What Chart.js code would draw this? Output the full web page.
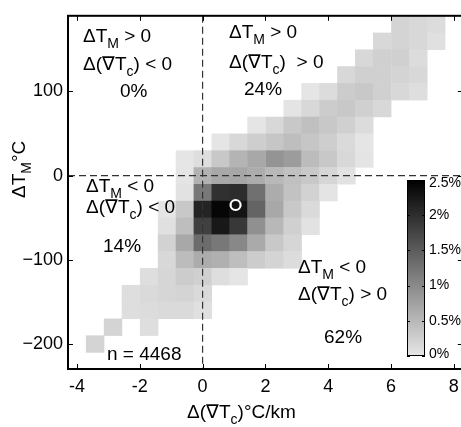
<!DOCTYPE html>
<html>
<head>
<meta charset="utf-8">
<script src="https://cdn.jsdelivr.net/npm/chart.js@4.4.1/dist/chart.umd.min.js"></script>
<style>
  html, body { margin: 0; padding: 0; background: #fff; overflow: hidden; }
  #wrap { width: 470px; height: 427px; }
</style>
</head>
<body>
<div id="wrap"><canvas id="histChart" width="470" height="427"></canvas></div>
<script>
// bin centres (x: 4/7 °C/km steps, y: 20 °C steps)
const binX = [-4.00, -3.43, -2.86, -2.29, -1.71, -1.14, -0.57, 0.00, 0.57, 1.14, 1.71,
              2.29, 2.86, 3.43, 4.00, 4.57, 5.14, 5.71, 6.29, 6.86, 7.43, 8.00];
const binY = [180, 160, 140, 120, 100, 80, 60, 40, 20, 0, -20, -40, -60, -80,
              -100, -120, -140, -160, -180, -200, -220];
const binW = 4 / 7;
const binH = 20;

// share of profiles per bin (%), one row per binY value, columns follow binX
const density = [
  [0,0,0,0,0,0,0,0,0,0,0,0,0,0,0,0,0,0,0.20,0.15,0.11,0],
  [0,0,0,0,0,0,0,0,0,0,0,0,0,0,0,0,0,0.15,0.20,0.15,0.07,0],
  [0,0,0,0,0,0,0,0,0,0,0,0,0,0,0,0,0.15,0.24,0.24,0.11,0,0],
  [0,0,0,0,0,0,0,0,0,0,0,0,0,0,0,0.15,0.24,0.24,0.20,0.15,0,0],
  [0,0,0,0,0,0,0,0,0,0,0,0,0,0.01,0.11,0.28,0.33,0.24,0.15,0.09,0,0],
  [0,0,0,0,0,0,0,0,0,0,0,0,0.02,0.15,0.28,0.33,0.24,0.15,0,0,0,0],
  [0,0,0,0,0,0,0,0,0,0,0.01,0.15,0.33,0.41,0.33,0.24,0.11,0,0,0,0,0],
  [0,0,0,0,0,0,0,0,0.01,0.15,0.26,0.35,0.43,0.35,0.26,0.13,0.01,0,0,0,0,0],
  [0,0,0,0,0,0,0.01,0.09,0.33,0.54,0.67,0.89,0.80,0.46,0.33,0.15,0.02,0,0,0,0,0],
  [0,0,0,0,0,0,0.01,0.57,0.67,0.70,0.63,0.50,0.41,0.33,0.17,0.04,0,0,0,0,0,0],
  [0,0,0,0,0,0,0.04,1.20,1.98,2.02,1.28,0.63,0.39,0.22,0.02,0,0,0,0,0,0,0],
  [0,0,0,0,0,0.01,0.33,2.11,2.43,2.28,1.41,0.67,0.33,0.13,0,0,0,0,0,0,0,0],
  [0,0,0,0,0,0.07,0.43,1.80,2.24,1.89,0.93,0.50,0.24,0.04,0,0,0,0,0,0,0,0],
  [0,0,0,0,0,0.22,0.67,1.33,1.20,1.02,0.65,0.33,0.17,0,0,0,0,0,0,0,0,0],
  [0,0,0,0,0,0.15,0.46,0.63,0.59,0.43,0.28,0.20,0.11,0,0,0,0,0,0,0,0,0],
  [0,0,0,0,0.09,0.17,0.28,0.24,0.09,0.01,0,0,0,0,0,0,0,0,0,0,0,0],
  [0,0,0,0.09,0.13,0.17,0.20,0.13,0,0,0,0,0,0,0,0,0,0,0,0,0,0],
  [0,0,0,0.09,0.11,0.13,0.13,0.07,0,0,0,0,0,0,0,0,0,0,0,0,0,0],
  [0,0,0.20,0,0.09,0,0,0,0,0,0,0,0,0,0,0,0,0,0,0,0,0],
  [0,0.20,0,0,0,0,0,0,0,0,0,0,0,0,0,0,0,0,0,0,0,0],
  [0,0,0,0,0,0,0,0,0,0,0,0,0,0,0,0,0,0,0,0,0,0]
];

const xTicks = [-4, -2, 0, 2, 4, 6, 8];
const yTicks = [-200, -100, 0, 100];
const cbTicks = [0, 0.5, 1, 1.5, 2, 2.5];
const cbMax = 2.5;
const meanPoint = [{ x: 1.05, y: -35 }];
const nProfiles = 4468;
const shares = ['0%', '24%', '14%', '62%'];  // TL, TR, BL, BR

const FONT = '"Liberation Sans", Arial, Helvetica, sans-serif';

// gray level: 0 % -> light gray, 2.5 % -> black
function grayFor(v) {
  const l = Math.round(230 * (1 - Math.min(v, cbMax) / cbMax));
  return 'rgb(' + l + ',' + l + ',' + l + ')';
}

// text with subscripts: parts starting with '_' are subscript
function drawRich(ctx, x, y, parts, size) {
  let cx = 0;
  parts.forEach(p => {
    const sub = p.charAt(0) === '_';
    const t = sub ? p.slice(1) : p;
    ctx.font = (sub ? Math.round(size * 0.72) : size) + 'px ' + FONT;
    ctx.fillText(t, x + cx, y + (sub ? size * 0.3 : 0));
    cx += ctx.measureText(t).width;
  });
}

const cells = [];
binY.forEach((y, r) => {
  binX.forEach((x, c) => {
    if (density[r][c] > 0) cells.push({ x: x, y: y, v: density[r][c] });
  });
});

const heatmapPlugin = {
  id: 'heatmap',
  beforeDatasetsDraw(chart) {
    const ctx = chart.ctx;
    const xs = chart.scales.x, ys = chart.scales.y;
    const area = chart.chartArea;

    ctx.save();
    ctx.beginPath();
    ctx.rect(area.left, area.top, area.right - area.left, area.bottom - area.top);
    ctx.clip();
    chart.data.datasets[0].data.forEach(c => {
      const x0 = xs.getPixelForValue(c.x - binW / 2);
      const x1 = xs.getPixelForValue(c.x + binW / 2);
      const y0 = ys.getPixelForValue(c.y + binH / 2);
      const y1 = ys.getPixelForValue(c.y - binH / 2);
      ctx.fillStyle = grayFor(c.v);
      ctx.fillRect(x0, y0, x1 - x0 + 0.5, y1 - y0 + 0.5);
    });

    // zero lines
    ctx.strokeStyle = '#333';
    ctx.lineWidth = 1.2;
    ctx.setLineDash([7, 4]);
    const zx = xs.getPixelForValue(0), zy = ys.getPixelForValue(0);
    ctx.beginPath();
    ctx.moveTo(zx, area.top); ctx.lineTo(zx, area.bottom);
    ctx.moveTo(area.left, zy); ctx.lineTo(area.right, zy);
    ctx.stroke();
    ctx.restore();
  },
  afterDraw(chart) {
    const ctx = chart.ctx;
    const xs = chart.scales.x, ys = chart.scales.y;
    const area = chart.chartArea;

    // box and inward ticks
    ctx.save();
    ctx.strokeStyle = '#000';
    ctx.lineWidth = 2;
    ctx.strokeRect(area.left, area.top, area.right - area.left, area.bottom - area.top);
    ctx.lineWidth = 1;
    ctx.beginPath();
    xTicks.forEach(v => {
      const px = Math.round(xs.getPixelForValue(v)) + 0.5;
      ctx.moveTo(px, area.bottom); ctx.lineTo(px, area.bottom - 5);
      ctx.moveTo(px, area.top); ctx.lineTo(px, area.top + 5);
    });
    yTicks.forEach(v => {
      const py = Math.round(ys.getPixelForValue(v)) + 0.5;
      ctx.moveTo(area.left, py); ctx.lineTo(area.left + 5, py);
      ctx.moveTo(area.right, py); ctx.lineTo(area.right - 5, py);
    });
    ctx.stroke();

    // axis titles
    ctx.fillStyle = '#000';
    ctx.textAlign = 'left';
    ctx.textBaseline = 'alphabetic';
    drawRich(ctx, 187, 418, ['\u0394(\u2207T', '_c', ')\u00b0C/km'], 19);
    ctx.save();
    ctx.translate(25, 198);
    ctx.rotate(-Math.PI / 2);
    drawRich(ctx, 0, 0, ['\u0394T', '_M', '\u00b0C'], 19);
    ctx.restore();

    // quadrant notes
    const fs = 19;
    drawRich(ctx, 83, 42, ['\u0394T', '_M', ' > 0'], fs);
    drawRich(ctx, 83, 70, ['\u0394(\u2207T', '_c', ') < 0'], fs);
    drawRich(ctx, 120, 97, [shares[0]], fs);

    drawRich(ctx, 229, 38, ['\u0394T', '_M', ' > 0'], fs);
    drawRich(ctx, 229, 68, ['\u0394(\u2207T', '_c', ')  > 0'], fs);
    drawRich(ctx, 244, 95, [shares[1]], fs);

    drawRich(ctx, 86, 192, ['\u0394T', '_M', ' < 0'], fs);
    drawRich(ctx, 86, 213, ['\u0394(\u2207T', '_c', ') < 0'], fs);
    drawRich(ctx, 103, 252, [shares[2]], fs);

    drawRich(ctx, 298, 273, ['\u0394T', '_M', ' < 0'], fs);
    drawRich(ctx, 298, 300, ['\u0394(\u2207T', '_c', ') > 0'], fs);
    drawRich(ctx, 324, 343, [shares[3]], fs);

    drawRich(ctx, 107, 360, ['n = ' + nProfiles], fs);

    // colour bar
    const cbL = 407, cbR = 425, cbT = 180, cbB = 356;
    const grad = ctx.createLinearGradient(0, cbB, 0, cbT);
    grad.addColorStop(0, grayFor(0));
    grad.addColorStop(1, grayFor(cbMax));
    ctx.fillStyle = grad;
    ctx.fillRect(cbL, cbT, cbR - cbL, cbB - cbT);
    ctx.strokeStyle = '#000';
    ctx.lineWidth = 1;
    ctx.strokeRect(cbL + 0.5, cbT + 0.5, cbR - cbL - 1, cbB - cbT - 1);
    ctx.fillStyle = '#000';
    ctx.textBaseline = 'middle';
    ctx.font = '14px ' + FONT;
    ctx.beginPath();
    cbTicks.forEach(v => {
      const py = cbB - (v / cbMax) * (cbB - cbT);
      ctx.moveTo(cbL, Math.round(py) + 0.5); ctx.lineTo(cbL + 3, Math.round(py) + 0.5);
      ctx.moveTo(cbR, Math.round(py) + 0.5); ctx.lineTo(cbR - 3, Math.round(py) + 0.5);
      const ly = Math.min(Math.max(py, cbT + 3), cbB - 2);
      ctx.fillText(v + '%', cbR + 4, ly);
    });
    ctx.stroke();
    ctx.restore();
  }
};

Chart.defaults.font.family = FONT;
Chart.defaults.color = '#000';

new Chart(document.getElementById('histChart'), {
  type: 'scatter',
  data: {
    datasets: [
      {
        label: 'bins',
        data: cells,
        pointRadius: 0,
        pointHoverRadius: 0
      },
      {
        label: 'mean',
        data: meanPoint,
        pointRadius: 5,
        pointHoverRadius: 5,
        pointBorderWidth: 2.2,
        pointBorderColor: '#fff',
        pointBackgroundColor: 'rgba(0,0,0,0)'
      }
    ]
  },
  options: {
    responsive: false,
    animation: false,
    events: [],
    layout: { padding: { left: 0, top: 5, right: 7, bottom: 0 } },
    plugins: {
      legend: { display: false },
      tooltip: { enabled: false }
    },
    scales: {
      x: {
        type: 'linear',
        min: -4 - binW / 2,
        max: 8 + binW / 2,
        grid: { display: false, drawTicks: false },
        border: { display: false },
        afterBuildTicks: s => { s.ticks = xTicks.map(v => ({ value: v })); },
        afterFit: s => { s.height = 58; },
        ticks: {
          font: { size: 18 },
          color: '#000',
          padding: 7,
          maxRotation: 0,
          callback: v => String(v)
        }
      },
      y: {
        type: 'linear',
        min: -230,
        max: 190,
        grid: { display: false, drawTicks: false },
        border: { display: false },
        afterBuildTicks: s => { s.ticks = yTicks.map(v => ({ value: v })); },
        afterFit: s => { s.width = 68; },
        ticks: {
          font: { size: 18 },
          color: '#000',
          padding: 5,
          callback: v => v < 0 ? '\u2212' + Math.abs(v) : String(v)
        }
      }
    }
  },
  plugins: [heatmapPlugin]
});
</script>
</body>
</html>
